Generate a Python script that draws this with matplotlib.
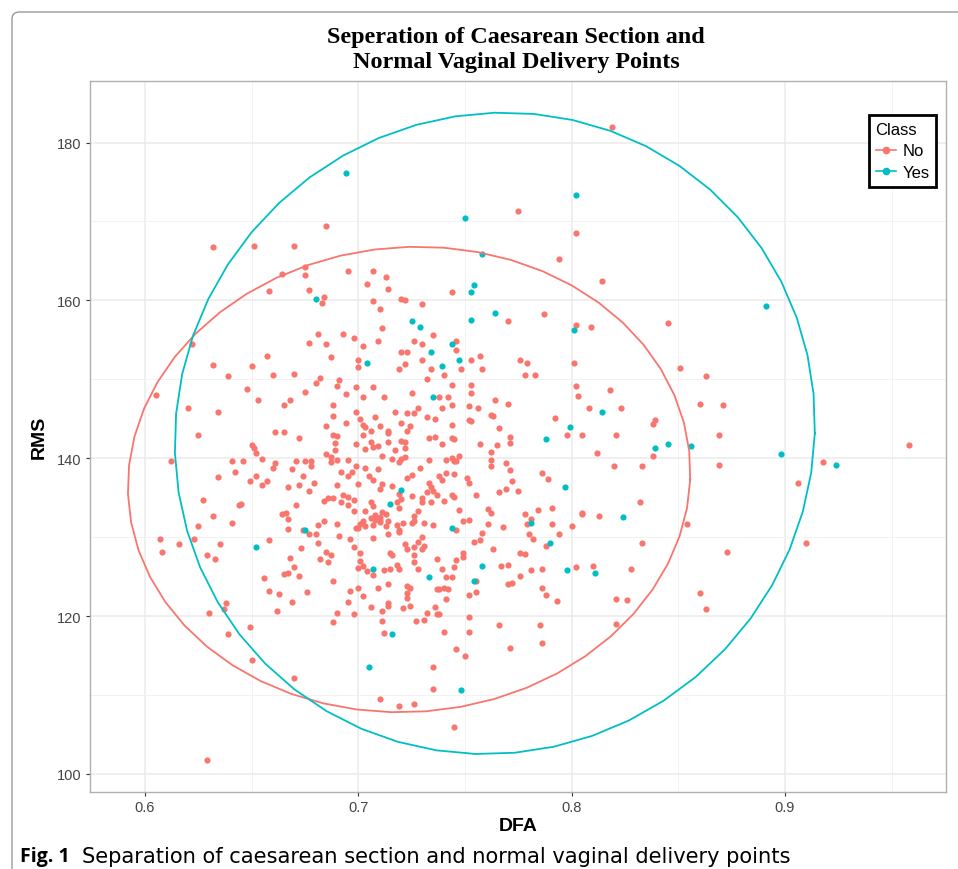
import numpy as np
import matplotlib
matplotlib.use("Agg")
import matplotlib.pyplot as plt
from matplotlib.lines import Line2D
from matplotlib.patches import FancyBboxPatch

# ---------------------------------------------------------------------------
# 데이터 : 그림에서 읽은 (DFA, RMS) 값
# ---------------------------------------------------------------------------

no_points = [
    (0.658, 161.2), (0.677, 161.3), (0.684, 160.4), (0.683, 159.7), (0.681, 155.8),
    (0.677, 154.6), (0.685, 154.5), (0.687, 152.8), (0.657, 153.0), (0.650, 151.7),
    (0.660, 150.6), (0.670, 150.7), (0.682, 150.2), (0.680, 149.5), (0.691, 149.9),
    (0.690, 149.1), (0.648, 148.8), (0.653, 147.4), (0.675, 148.4), (0.668, 147.4),
    (0.665, 146.8), (0.688, 146.8), (0.688, 145.4), (0.685, 144.1), (0.661, 143.3),
    (0.665, 143.3), (0.672, 142.5), (0.688, 143.0), (0.690, 142.8), (0.689, 141.9),
    (0.650, 141.7), (0.651, 141.3), (0.652, 140.7), (0.689, 141.1), (0.655, 139.9),
    (0.685, 140.5), (0.687, 140.2), (0.690, 139.8), (0.641, 139.6), (0.646, 139.6),
    (0.661, 139.4), (0.671, 139.6), (0.675, 139.7), (0.678, 139.7), (0.687, 139.5),
    (0.660, 138.8), (0.669, 138.6), (0.678, 139.0),
    (0.704, 162.1), (0.714, 161.5), (0.707, 159.9), (0.720, 160.2), (0.722, 160.0),
    (0.730, 159.5), (0.710, 158.9), (0.711, 156.5), (0.693, 155.8), (0.698, 155.2),
    (0.735, 155.6), (0.709, 154.8), (0.726, 154.8), (0.730, 154.5), (0.702, 154.2),
    (0.720, 153.5), (0.723, 153.4), (0.700, 152.5), (0.730, 152.4), (0.700, 151.6),
    (0.722, 151.9), (0.719, 151.3), (0.734, 151.3), (0.740, 150.5), (0.732, 150.0),
    (0.699, 149.0), (0.707, 149.0), (0.694, 148.1), (0.725, 148.3), (0.702, 147.7),
    (0.712, 147.7), (0.738, 147.7), (0.742, 147.7), (0.739, 146.3), (0.699, 145.8),
    (0.728, 146.3), (0.717, 145.8), (0.723, 145.7), (0.726, 145.7), (0.701, 145.0),
    (0.708, 145.2), (0.732, 145.2), (0.736, 145.0), (0.694, 144.5), (0.702, 144.2),
    (0.703, 143.9), (0.710, 144.1), (0.720, 144.5), (0.724, 144.1), (0.714, 143.5),
    (0.714, 143.2), (0.706, 143.4), (0.723, 143.4), (0.702, 142.9), (0.733, 142.6),
    (0.736, 142.7), (0.699, 141.8), (0.706, 142.0), (0.714, 142.1), (0.720, 142.2),
    (0.722, 142.0), (0.707, 141.4), (0.709, 141.6), (0.703, 141.2), (0.722, 141.3),
    (0.717, 141.1), (0.739, 141.8), (0.711, 140.3), (0.695, 139.8), (0.716, 139.9),
    (0.720, 139.9), (0.722, 140.1), (0.733, 139.8), (0.741, 139.8), (0.719, 139.5),
    (0.699, 139.0), (0.703, 138.8), (0.709, 138.6), (0.729, 138.8),
    (0.744, 161.1), (0.770, 157.4), (0.787, 158.3), (0.746, 154.9), (0.746, 153.7),
    (0.748, 151.3), (0.753, 152.5), (0.757, 153.0), (0.758, 151.3), (0.776, 152.4),
    (0.779, 152.1), (0.778, 150.5), (0.783, 150.6), (0.744, 149.3), (0.753, 149.3),
    (0.753, 148.2), (0.744, 146.8), (0.752, 146.6), (0.756, 146.4), (0.764, 147.4),
    (0.770, 146.9), (0.762, 145.5), (0.763, 145.3), (0.752, 144.8), (0.753, 144.7),
    (0.766, 143.8), (0.792, 145.1), (0.744, 144.2), (0.744, 142.6), (0.745, 142.4),
    (0.771, 142.7), (0.771, 141.9), (0.757, 141.8), (0.765, 141.7), (0.762, 140.8),
    (0.747, 140.3), (0.744, 140.0), (0.745, 139.7), (0.746, 139.7), (0.762, 139.8),
    (0.769, 139.4), (0.762, 139.0),
    (0.642, 138.2), (0.652, 137.7), (0.649, 137.1), (0.655, 136.6), (0.657, 137.1),
    (0.674, 137.8), (0.667, 136.3), (0.672, 136.6), (0.679, 136.9), (0.677, 135.8),
    (0.690, 136.6), (0.645, 134.2), (0.644, 134.1), (0.671, 134.1), (0.684, 134.6),
    (0.686, 134.9), (0.688, 135.0), (0.664, 132.9), (0.666, 133.0), (0.667, 132.3),
    (0.641, 131.8), (0.667, 131.0), (0.674, 130.9), (0.677, 130.4), (0.680, 130.4),
    (0.681, 131.5), (0.684, 132.0), (0.690, 131.6), (0.691, 130.2), (0.658, 129.6),
    (0.673, 128.6), (0.681, 129.3), (0.668, 127.4), (0.685, 128.1), (0.687, 127.7),
    (0.682, 127.2), (0.686, 126.9), (0.670, 126.2), (0.665, 125.3), (0.667, 125.4),
    (0.672, 125.1), (0.656, 124.8), (0.688, 124.4), (0.658, 123.2), (0.663, 122.8),
    (0.676, 123.0), (0.669, 121.8), (0.662, 120.7), (0.690, 120.4), (0.688, 119.3),
    (0.649, 118.6),
    (0.692, 138.2), (0.697, 138.3), (0.695, 137.7), (0.705, 137.7), (0.707, 137.3),
    (0.700, 136.7), (0.711, 136.7), (0.710, 136.1), (0.716, 136.5), (0.719, 135.5),
    (0.723, 137.5), (0.725, 137.9), (0.733, 136.9), (0.734, 136.4), (0.739, 137.3),
    (0.738, 137.8), (0.741, 138.1), (0.732, 135.7), (0.735, 135.9), (0.725, 135.2),
    (0.730, 135.0), (0.737, 135.3), (0.693, 135.3), (0.695, 135.1), (0.698, 134.7),
    (0.692, 134.4), (0.695, 134.1), (0.706, 134.4), (0.707, 133.9), (0.718, 134.4),
    (0.720, 134.8), (0.719, 133.7), (0.730, 134.4), (0.734, 134.5), (0.740, 134.6),
    (0.698, 133.3), (0.703, 133.3), (0.711, 133.2), (0.708, 132.8), (0.710, 132.6),
    (0.713, 132.9), (0.706, 132.4), (0.708, 132.2), (0.710, 132.2), (0.710, 131.9),
    (0.714, 132.1), (0.702, 132.0), (0.701, 131.7), (0.703, 131.4), (0.699, 131.1),
    (0.700, 131.2), (0.707, 131.5), (0.713, 131.4), (0.718, 131.5), (0.721, 131.8),
    (0.725, 131.8), (0.726, 132.0), (0.728, 133.3), (0.726, 132.7), (0.731, 131.8),
    (0.735, 131.5), (0.719, 130.9), (0.719, 130.7), (0.714, 130.4), (0.696, 129.8),
    (0.707, 129.9), (0.698, 128.8), (0.722, 129.1), (0.723, 128.5), (0.726, 128.8),
    (0.728, 129.4), (0.730, 130.0), (0.731, 128.9), (0.730, 128.5), (0.701, 128.0),
    (0.715, 128.0), (0.716, 127.7), (0.726, 127.7), (0.737, 127.2), (0.701, 127.0),
    (0.726, 126.8), (0.718, 126.5), (0.719, 126.0), (0.700, 126.1), (0.702, 126.3),
    (0.704, 125.7), (0.712, 125.8), (0.715, 126.0), (0.707, 125.2), (0.728, 126.0),
    (0.739, 126.0), (0.741, 125.0), (0.714, 124.0), (0.709, 123.6), (0.700, 123.6),
    (0.723, 123.8), (0.724, 123.5), (0.723, 122.9), (0.737, 123.4), (0.738, 123.4),
    (0.740, 123.6), (0.742, 123.4), (0.696, 123.2), (0.702, 122.5), (0.723, 122.3),
    (0.741, 122.2), (0.695, 121.8), (0.706, 121.2), (0.714, 121.6), (0.714, 121.3),
    (0.711, 120.7), (0.721, 121.0), (0.724, 121.3), (0.736, 121.2), (0.698, 120.3),
    (0.732, 120.4), (0.737, 120.2), (0.738, 120.2), (0.711, 119.4), (0.727, 119.4),
    (0.731, 119.5), (0.712, 117.8), (0.740, 118.0),
    (0.745, 138.0), (0.751, 137.5), (0.752, 136.9), (0.771, 138.5), (0.786, 138.1),
    (0.789, 137.4), (0.772, 137.1), (0.769, 136.1), (0.766, 135.7), (0.775, 135.9),
    (0.755, 135.4), (0.744, 135.4), (0.745, 135.1), (0.747, 133.4), (0.761, 133.5),
    (0.762, 133.0), (0.784, 133.4), (0.791, 133.7), (0.778, 132.9), (0.781, 132.3),
    (0.749, 132.0), (0.752, 132.2), (0.761, 131.7), (0.768, 131.3), (0.779, 131.6),
    (0.791, 131.6), (0.746, 130.9), (0.758, 130.5), (0.780, 130.4), (0.782, 129.7),
    (0.794, 130.4), (0.754, 129.4), (0.757, 129.6), (0.788, 128.9), (0.763, 128.5),
    (0.749, 128.0), (0.749, 127.5), (0.776, 128.0), (0.778, 127.9), (0.746, 127.1),
    (0.745, 126.2), (0.767, 126.4), (0.770, 126.5), (0.786, 126.0), (0.781, 125.8),
    (0.744, 124.9), (0.776, 125.1), (0.755, 124.4), (0.770, 124.1), (0.772, 124.2),
    (0.786, 123.5), (0.752, 122.7), (0.755, 123.0), (0.788, 122.7), (0.793, 121.9),
    (0.752, 119.9), (0.752, 118.0), (0.766, 118.9), (0.785, 118.9), (0.786, 116.6),
    (0.746, 115.8), (0.771, 115.9), (0.750, 114.9),
    (0.632, 166.8), (0.622, 154.5), (0.632, 151.8), (0.639, 150.4), (0.605, 148.0),
    (0.620, 146.4), (0.634, 145.9), (0.625, 142.9),
    (0.612, 139.7), (0.634, 137.6), (0.627, 134.7), (0.632, 132.7), (0.625, 131.4),
    (0.607, 129.8), (0.616, 129.1), (0.623, 129.7), (0.635, 129.1), (0.608, 128.1),
    (0.629, 127.7), (0.633, 127.2), (0.638, 121.7), (0.637, 120.9), (0.630, 120.4),
    (0.639, 117.7), (0.629, 101.7),
    (0.775, 171.3), (0.685, 169.4), (0.651, 166.9), (0.670, 166.9), (0.794, 165.2),
    (0.664, 163.3), (0.675, 164.2), (0.675, 163.2), (0.695, 163.7), (0.707, 163.7),
    (0.713, 162.9),
    (0.650, 114.4), (0.670, 112.2), (0.735, 113.6), (0.735, 110.7), (0.710, 109.5),
    (0.719, 108.6), (0.726, 108.8), (0.745, 106.0),
    (0.819, 182.0), (0.802, 168.6), (0.814, 162.5), (0.802, 156.9), (0.809, 156.6),
    (0.845, 157.1), (0.801, 152.1), (0.851, 151.4), (0.863, 150.4), (0.802, 149.1),
    (0.803, 147.9), (0.818, 148.7), (0.808, 146.4), (0.823, 146.4), (0.860, 146.9),
    (0.871, 146.8), (0.839, 144.8), (0.838, 144.3), (0.798, 142.9), (0.805, 142.9),
    (0.821, 142.9), (0.869, 142.9),
    (0.812, 140.6), (0.838, 140.3), (0.820, 139.0), (0.833, 139.0), (0.869, 139.1),
    (0.958, 141.7), (0.918, 139.5), (0.906, 136.9), (0.832, 134.5), (0.805, 133.1),
    (0.805, 132.9), (0.813, 132.7), (0.854, 131.7), (0.800, 131.4), (0.833, 129.3),
    (0.910, 129.2), (0.873, 128.1), (0.802, 126.2), (0.810, 126.4), (0.828, 126.0),
    (0.860, 122.9), (0.821, 122.1), (0.826, 122.0), (0.863, 120.9), (0.821, 119.0),
]

yes_points = [
    (0.680, 160.2), (0.725, 157.4), (0.729, 156.6), (0.734, 153.4), (0.704, 152.1),
    (0.739, 151.7), (0.735, 147.7), (0.754, 162.0), (0.753, 161.1), (0.764, 158.4),
    (0.753, 157.5), (0.744, 154.5), (0.747, 152.4), (0.788, 142.4), (0.675, 130.9),
    (0.652, 128.8), (0.720, 136.0), (0.715, 134.2), (0.707, 126.0), (0.733, 124.9),
    (0.716, 117.7), (0.781, 131.8), (0.744, 131.1), (0.790, 129.3), (0.758, 126.4),
    (0.754, 124.5), (0.694, 176.1), (0.750, 170.4), (0.758, 165.9), (0.705, 113.5),
    (0.748, 110.6), (0.802, 173.4), (0.891, 159.3), (0.801, 156.3), (0.814, 145.9),
    (0.799, 143.9), (0.839, 141.3), (0.845, 141.8), (0.856, 141.5), (0.898, 140.5),
    (0.924, 139.1), (0.797, 136.3), (0.824, 132.5), (0.798, 125.8), (0.811, 125.5),
]

# stat_ellipse 결과 : 중심, 반축 (x, y), x방향 기울기
ellipse_center = {"No": (0.7238, 137.3), "Yes": (0.764, 143.15)}
ellipse_axes   = {"No": (0.1318, 29.5), "Yes": (0.150, 40.65)}
ellipse_shear  = {"No": 0.0042, "Yes": 0.0045}

class_colors = {"No": "#F8766D", "Yes": "#00BFC4"}

x_ticks = [0.6, 0.7, 0.8, 0.9]
y_ticks = [100, 120, 140, 160, 180]
x_minor = [0.65, 0.75, 0.85, 0.95]
y_minor = [110, 130, 150, 170]

title_text = "Seperation of Caesarean Section and\nNormal Vaginal Delivery Points"
caption_bold = "Fig. 1"
caption_text = "Separation of caesarean section and normal vaginal delivery points"


# ---------------------------------------------------------------------------
# 그림
# ---------------------------------------------------------------------------

W, H = 958, 870
fig = plt.figure(figsize=(W / 100, H / 100), dpi=100)
ax = fig.add_axes([90 / W, 1 - 793 / H, (946 - 90) / W, (793 - 82) / H])

points = {"No": np.array(no_points), "Yes": np.array(yes_points)}
for cls, pts in points.items():
    ax.scatter(pts[:, 0], pts[:, 1], s=20, color=class_colors[cls],
               linewidths=0, zorder=2)

# ggplot stat_ellipse 와 같은 51개 선분 다각형
t = np.linspace(0, 2 * np.pi, 52)
for cls in ["No", "Yes"]:
    cx, cy = ellipse_center[cls]
    a, b = ellipse_axes[cls]
    sh = ellipse_shear[cls]
    ax.plot(cx + a * np.cos(t) + sh * np.sin(t), cy + b * np.sin(t),
            color=class_colors[cls], lw=1.3, zorder=3)

ax.set_xlim(0.5742, 0.9755)
ax.set_ylim(97.7, 187.8)
ax.set_xticks(x_ticks)
ax.set_xticklabels([f"{v:.1f}" for v in x_ticks])
ax.set_yticks(y_ticks)
ax.set_xticks(x_minor, minor=True)
ax.set_yticks(y_minor, minor=True)
ax.grid(which="major", color="#ebebeb", lw=1.1, zorder=0)
ax.grid(which="minor", color="#f2f2f2", lw=0.7, zorder=0)
ax.set_axisbelow(True)
ax.tick_params(which="major", length=3, width=0.8, color="#333333",
               labelsize=10.5, labelcolor="#444444", pad=3)
ax.tick_params(which="minor", length=0)
for lab in ax.get_xticklabels() + ax.get_yticklabels():
    lab.set_family("Liberation Sans")
for sp in ax.spines.values():
    sp.set_color("#b0b0b0")
    sp.set_linewidth(1.0)

ax.set_xlabel("DFA", fontsize=14, fontweight="bold", family="Liberation Sans",
              labelpad=2)
ax.set_ylabel("RMS", fontsize=14, fontweight="bold", family="Liberation Sans",
              labelpad=7)

handles = [Line2D([], [], color=class_colors[c], marker="o", markersize=4.5,
                  lw=1.2, label=c) for c in ["No", "Yes"]]
leg = ax.legend(handles=handles, title="Class", loc="upper right",
                bbox_to_anchor=((936 - 90) / 856, 1 - (116 - 82) / 711),
                borderaxespad=0, fancybox=False, framealpha=1,
                handlelength=1.2, handletextpad=0.4, borderpad=0.4,
                labelspacing=0.4, prop={"family": "Liberation Sans", "size": 12})
leg.get_title().set_fontsize(12)
leg.get_title().set_family("Liberation Sans")
leg._legend_box.align = "left"
leg.get_frame().set_edgecolor("black")
leg.get_frame().set_linewidth(2.0)

fig.text(516 / W, 1 - 50 / H, title_text, ha="center", va="center",
         fontsize=17.4, fontweight="bold", family="Liberation Serif",
         linespacing=1.2)

# 외곽 프레임 (왼쪽, 위쪽만 보이게)
frame = FancyBboxPatch((12 / W, -0.2), 1.2, (1 - 13 / H) + 0.2,
                       boxstyle="round,pad=0,rounding_size=0.008",
                       transform=fig.transFigure, fill=False,
                       edgecolor="#9a9a9a", lw=1.0)
fig.add_artist(frame)

# 캡션 : 원본의 글자 폭에 맞추어 크기 조정
cap_y = 1 - 857 / H
renderer = fig.canvas.get_renderer()
t1 = fig.text(20 / W, cap_y, caption_bold, ha="left", va="center",
              fontsize=14, fontweight="bold", family="Open Sans")
t1.set_fontsize(14 * 50 / t1.get_window_extent(renderer).width)
t2 = fig.text(82 / W, cap_y, caption_text, ha="left", va="center",
              fontsize=14, family="DejaVu Sans")
t2.set_fontsize(14 * 714 / t2.get_window_extent(renderer).width)

fig.savefig("out.png", dpi=100)
